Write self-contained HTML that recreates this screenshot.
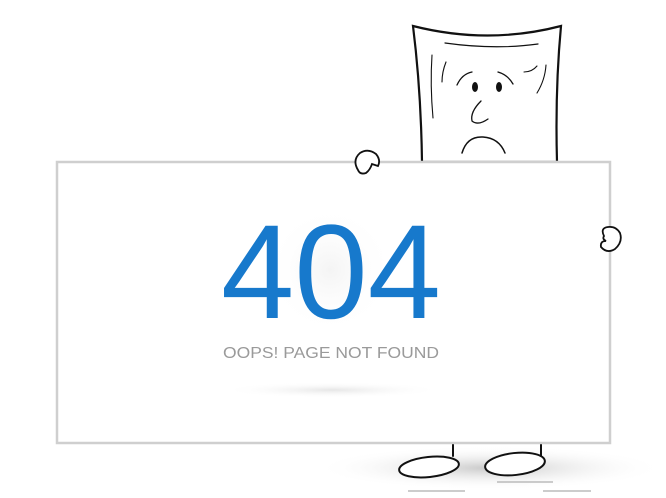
<!DOCTYPE html>
<html><head><meta charset="utf-8"><style>
html,body{margin:0;padding:0;background:#fff;width:666px;height:498px;overflow:hidden}
svg{display:block}
</style></head><body>
<svg width="666" height="498" viewBox="0 0 666 498">
<defs>
<radialGradient id="sh" cx="50%" cy="50%" r="50%"><stop offset="0" stop-color="#bbb" stop-opacity=".8"/><stop offset="1" stop-color="#fff" stop-opacity="0"/></radialGradient>
<radialGradient id="sh2" cx="50%" cy="50%" r="50%"><stop offset="0" stop-color="#e6e6e6"/><stop offset="1" stop-color="#fff" stop-opacity="0"/></radialGradient>
<radialGradient id="glow" cx="50%" cy="50%" r="50%"><stop offset="0" stop-color="#f4f4f4"/><stop offset="1" stop-color="#fff" stop-opacity="0"/></radialGradient>
</defs>
<ellipse cx="490" cy="468" rx="175" ry="22" fill="url(#sh)"/>
<g fill="none" stroke="#111" stroke-linecap="round">
<path d="M413 26 Q488 45 561 26 Q555 90 557 162 L422 162 Q421 90 413 26 Z" fill="#fff" stroke-width="2.2"/>
<path d="M445 43 Q495 50 538 44" stroke-width="1.2"/>
<path d="M432 55 Q430 85 433 118" stroke-width="1.1"/>
<path d="M446 62 Q442 72 442 82" stroke-width="1.1"/>
<path d="M546 65 Q545 80 537 93" stroke-width="1.1"/>
<path d="M524 72 Q532 72 537 66" stroke-width="1.1"/>
<path d="M457 85 Q462 74 472 72" stroke-width="1.3"/>
<path d="M498 72 Q508 75 513 84" stroke-width="1.3"/>
<ellipse cx="475" cy="87" rx="3" ry="5" fill="#111" stroke="none"/>
<ellipse cx="499" cy="87" rx="3" ry="5" fill="#111" stroke="none"/>
<path d="M481 101 Q470 112 472 121 Q478 126 488 119" stroke-width="1.3"/>
<path d="M462 153 Q467 136 483 137 Q499 138 505 153" stroke-width="1.5"/>
<path d="M453 443 L453 456 M541 443 L541 456" stroke-width="2"/>
<ellipse cx="429" cy="467" rx="30" ry="10" transform="rotate(-6 429 467)" fill="#fff" stroke-width="2"/>
<ellipse cx="515" cy="464" rx="30" ry="11" transform="rotate(-6 515 464)" fill="#fff" stroke-width="2"/>
</g>
<g stroke="#bbb" stroke-width="1.5">
<line x1="408" y1="491" x2="465" y2="491"/><line x1="497" y1="482" x2="553" y2="482"/><line x1="543" y1="491" x2="591" y2="491"/>
</g>
<rect x="57" y="162" width="553" height="281" fill="#fff" stroke="#cfcfcf" stroke-width="2.5"/>
<circle cx="330" cy="270" r="65" fill="url(#glow)"/>
<path d="M358 170 Q352 160 360 153 Q368 148 376 154 Q381 160 378 166 L372 164 Q370 170 366 173 Q360 175 358 170 Z" fill="#fff" stroke="#111" stroke-width="1.8"/>
<path d="M604 236 Q600 228 608 227 Q616 226 620 233 Q623 242 615 249 Q607 254 601 247 Q600 241 606 241 Q602 239 604 236 Z" fill="#fff" stroke="#111" stroke-width="1.8"/>
<text x="331" y="318" text-anchor="middle" font-family="Liberation Sans, sans-serif" font-size="134" fill="#1779cc" textLength="220" lengthAdjust="spacingAndGlyphs">404</text>
<text x="331" y="358" text-anchor="middle" font-family="Liberation Sans, sans-serif" font-size="16" fill="#9a9a9a" textLength="216" lengthAdjust="spacingAndGlyphs">OOPS! PAGE NOT FOUND</text>
<ellipse cx="332" cy="390" rx="110" ry="8" fill="url(#sh2)"/>
</svg>
</body></html>
